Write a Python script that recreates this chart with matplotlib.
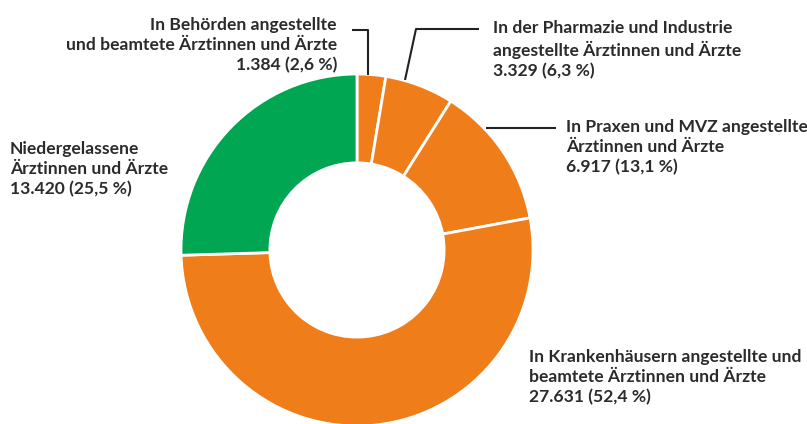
import numpy as np
import matplotlib.pyplot as plt

# Daten
kategorien = [
    "In Behörden angestellte\nund beamtete Ärztinnen und Ärzte",
    "In der Pharmazie und Industrie\nangestellte Ärztinnen und Ärzte",
    "In Praxen und MVZ angestellte\nÄrztinnen und Ärzte",
    "In Krankenhäusern angestellte und\nbeamtete Ärztinnen und Ärzte",
    "Niedergelassene\nÄrztinnen und Ärzte",
]
anzahl = [1384, 3329, 6917, 27631, 13420]
anteil = ["2,6", "6,3", "13,1", "52,4", "25,5"]
farben = ["#EF7D1A", "#EF7D1A", "#EF7D1A", "#EF7D1A", "#00A651"]

W, H = 807, 424
fig = plt.figure(figsize=(W / 100, H / 100), dpi=100)
ax = fig.add_axes([0, 0, 1, 1])

cx, cy, r = 357, H - 250, 176
wedges, _ = ax.pie(anzahl, colors=farben, startangle=90, counterclock=False,
                   center=(cx, cy), radius=r,
                   wedgeprops=dict(width=r * 0.505, edgecolor="white", linewidth=2))
ax.set_xlim(0, W)
ax.set_ylim(0, H)
ax.set_aspect("equal")
ax.axis("off")

def fmt(n):
    return f"{n:,}".replace(",", ".")

textfarbe = "#2b2b2b"
schrift = dict(fontsize=12.6, fontweight="bold", family="Lato", color=textfarbe,
               linespacing=1.31)

# Beschriftungen: (x, y der mittleren Zeile, Ausrichtung)
pos = [(337, 45, "right"), (493, 50, "left"), (566, 147, "left"),
       (529, 377, "left"), (10, 169, "left")]
for k, n, p, (x, y, ha) in zip(kategorien, anzahl, anteil, pos):
    ax.text(x, H - y, f"{k}\n{fmt(n)} ({p} %)", ha=ha, va="center", **schrift)

# Hinweislinien
lw = dict(color="#222222", linewidth=1.5, solid_capstyle="butt")
ax.plot([352, 368, 368], [H - 30, H - 30, H - 75], **lw)
ax.plot([479, 416, 405], [H - 29, H - 29, H - 80], **lw)
ax.plot([486, 556], [H - 127.5, H - 127.5], **lw)

fig.savefig("out.png", dpi=100)
